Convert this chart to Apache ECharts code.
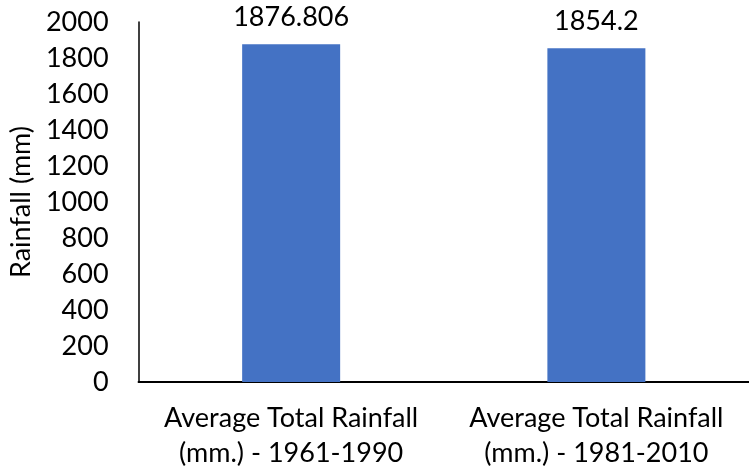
<!DOCTYPE html>
<html>
<head>
<meta charset="utf-8">
<script src="https://cdn.jsdelivr.net/npm/echarts@6/dist/echarts.min.js"></script>
<style>
  html, body { margin: 0; padding: 0; background: #fff; }
  #chart { width: 749px; height: 472px; }
</style>
</head>
<body>
<div id="chart"></div>
<script>
// Average annual rainfall for two climate normal periods
const categories = [
  'Average Total Rainfall\n(mm.) - 1961-1990',
  'Average Total Rainfall\n(mm.) - 1981-2010'
];
const rainfall = [1876.806, 1854.2];
const yTicks = { min: 0, max: 2000, interval: 200 };

const FONT = 'Lato';
const SIZE = 27;
const chart = echarts.init(document.getElementById('chart'), null, { renderer: 'canvas' });

chart.setOption({
  backgroundColor: '#ffffff',
  animation: false,
  grid: { left: 133, right: -6, top: 22, bottom: 90 },
  xAxis: {
    type: 'category',
    data: categories,
    axisLine: { show: true, lineStyle: { color: '#000', width: 2 } },
    axisTick: { show: false },
    axisLabel: {
      color: '#000',
      fontFamily: FONT,
      fontSize: SIZE,
      lineHeight: 35,
      margin: 19,
      interval: 0
    },
    splitLine: { show: false }
  },
  yAxis: {
    type: 'value',
    min: yTicks.min,
    max: yTicks.max,
    interval: yTicks.interval,
    name: 'Rainfall (mm)',
    nameLocation: 'middle',
    nameGap: 98,
    nameTextStyle: { color: '#000', fontFamily: FONT, fontSize: SIZE },
    axisLine: { show: true, lineStyle: { color: '#000', width: 1.5 } },
    axisTick: { show: false },
    axisLabel: {
      color: '#000',
      fontFamily: FONT,
      fontSize: SIZE,
      margin: 30,
      formatter: v => String(v)
    },
    splitLine: { show: false }
  },
  series: [{
    type: 'bar',
    data: rainfall,
    barWidth: 98,
    itemStyle: { color: '#4472C4' },
    label: {
      show: true,
      position: 'top',
      distance: 13,
      color: '#000',
      fontFamily: FONT,
      fontSize: SIZE,
      formatter: p => String(p.value)
    }
  }]
});
</script>
</body>
</html>
